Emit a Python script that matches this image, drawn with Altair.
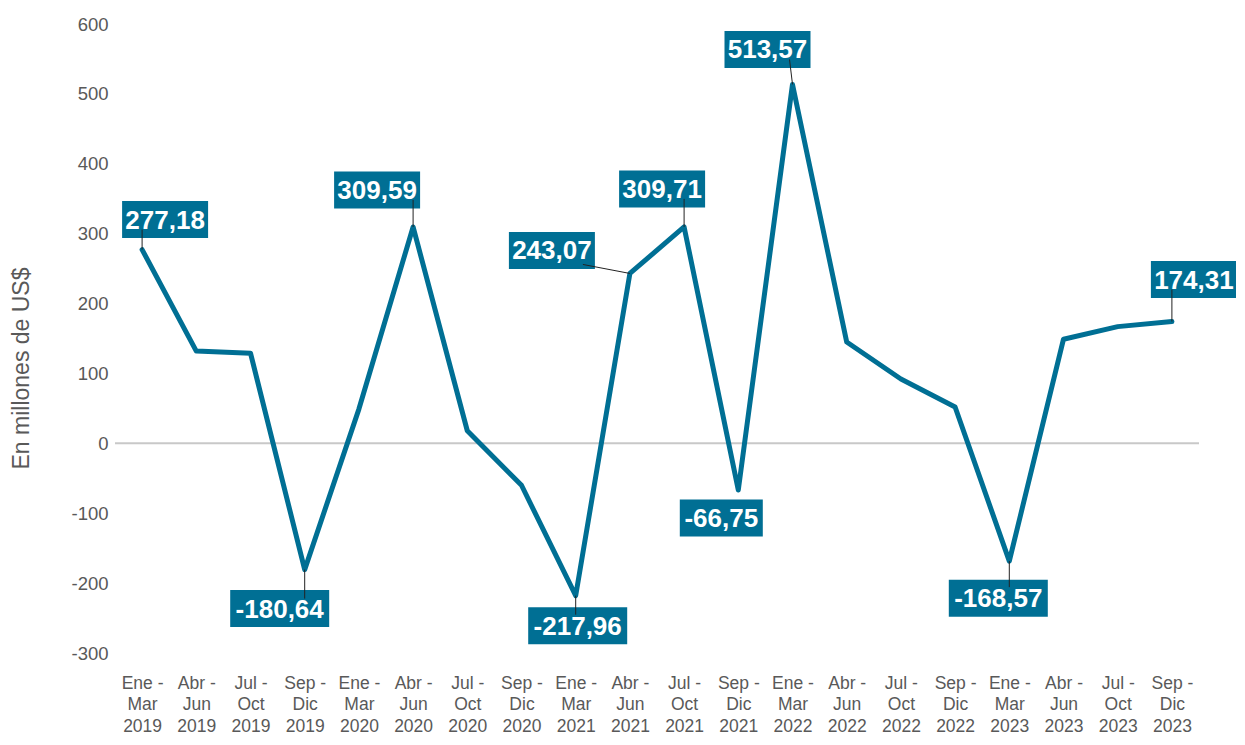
import altair as alt
import pandas as pd

periods = ["Ene -|Mar|2019", "Abr -|Jun|2019", "Jul -|Oct|2019", "Sep -|Dic|2019",
           "Ene -|Mar|2020", "Abr -|Jun|2020", "Jul -|Oct|2020", "Sep -|Dic|2020",
           "Ene -|Mar|2021", "Abr -|Jun|2021", "Jul -|Oct|2021", "Sep -|Dic|2021",
           "Ene -|Mar|2022", "Abr -|Jun|2022", "Jul -|Oct|2022", "Sep -|Dic|2022",
           "Ene -|Mar|2023", "Abr -|Jun|2023", "Jul -|Oct|2023", "Sep -|Dic|2023"]
values = [277.18, 132, 129, -180.64, 49, 309.59, 18, -60, -217.96, 243.07,
          309.71, -66.75, 513.57, 145, 92, 52, -168.57, 149, 167, 174.31]

# annotated points (index into the series) and their label text
label_idx = [0, 3, 5, 8, 9, 10, 11, 12, 16, 19]
label_txt = ["277,18", "-180,64", "309,59", "-217,96", "243,07", "309,71",
             "-66,75", "513,57", "-168,57", "174,31"]
# label box centre offsets from the point (pixels)
label_dx = [23, -25, -36, 2, -78, -22, -17, -25, -11, 22]
label_dy = [-30, 39, -37, 30, -23, -38, 28, -35, 37, -42]
# leader line end offsets from the point (pixels)
lead_dx = [0, 0, 0, 0, -47, 0, 0, -3, 0, 0]
lead_dy = [-20, 29, -27, 19, -9, -28, 0, -25, 26, -32]

W, H = 1084, 629
YMIN, YMAX = -300, 600
KX = W / 20.0
KY = H / float(YMAX - YMIN)

COLOR = "#006F94"
GREY = "#595959"
FONT = "Liberation Sans"

df = pd.DataFrame({"i": list(range(len(values))), "v": values})
ann = pd.DataFrame({
    "i": label_idx,
    "v": [values[k] for k in label_idx],
    "t": label_txt,
    "dx": label_dx, "dy": label_dy,
    "lx": lead_dx, "ly": lead_dy,
})

xscale = alt.Scale(domain=[-0.5, 19.5], nice=False, zero=False)
yscale = alt.Scale(domain=[YMIN, YMAX], nice=False, zero=False)

lbl_arr = "[" + ",".join("'" + p + "'" for p in periods) + "]"

xaxis = alt.Axis(values=list(range(20)), labelExpr="split(" + lbl_arr + "[datum.value], '|')",
                 ticks=False, domain=False, grid=False, title=None,
                 labelFont=FONT, labelFontSize=17.5, labelColor=GREY, labelPadding=21,
                 labelLineHeight=21.5, labelAngle=0)
yaxis = alt.Axis(values=list(range(-300, 601, 100)), labelExpr="datum.value + ''",
                 ticks=False, domain=False, grid=False,
                 title="En millones de US$", titleFont=FONT, titleFontSize=23,
                 titleFontWeight="normal", titleColor=GREY, titleAngle=270,
                 titleAlign="center", titleBaseline="middle", titleX=-94, titleY=344,
                 labelFont=FONT, labelFontSize=18.5, labelColor=GREY, labelPadding=7)

zero = alt.Chart(pd.DataFrame({"z": [0]})).mark_rule(color="#C8C8C8", strokeWidth=2).encode(
    y=alt.Y("z:Q", scale=yscale, axis=yaxis))

line = alt.Chart(df).mark_line(color=COLOR, strokeWidth=5, strokeJoin="round", strokeCap="round").encode(
    x=alt.X("i:Q", scale=xscale, axis=xaxis),
    y=alt.Y("v:Q", scale=yscale, axis=yaxis),
)

base_ann = alt.Chart(ann).transform_calculate(
    w="16*length(datum.t) - 10 - (datum.v < 0 ? 3 : 0)",
    cx="datum.i + datum.dx/" + str(KX),
    cy="datum.v - datum.dy/" + str(KY),
).transform_calculate(
    bx1="datum.cx - (datum.w/2)/" + str(KX),
    bx2="datum.cx + (datum.w/2)/" + str(KX),
    by1="datum.cy - 18.5/" + str(KY),
    by2="datum.cy + 18.5/" + str(KY),
    ex="datum.i + datum.lx/" + str(KX),
    ey="datum.v - datum.ly/" + str(KY),
)

boxes = base_ann.mark_rect(color=COLOR).encode(
    x=alt.X("bx1:Q", scale=xscale, axis=xaxis), x2="bx2:Q",
    y=alt.Y("by1:Q", scale=yscale, axis=yaxis), y2="by2:Q",
)

leaders = base_ann.mark_rule(color="#222222", strokeWidth=1).encode(
    x=alt.X("i:Q", scale=xscale, axis=xaxis), x2="ex:Q",
    y=alt.Y("v:Q", scale=yscale, axis=yaxis), y2="ey:Q",
)

texts = base_ann.mark_text(color="white", font=FONT, fontSize=26, fontWeight="bold",
                           baseline="middle", align="center", dy=1).encode(
    x=alt.X("cx:Q", scale=xscale, axis=xaxis),
    y=alt.Y("cy:Q", scale=yscale, axis=yaxis),
    text="t:N",
)

chart = alt.layer(zero, line, boxes, leaders, texts).properties(
    width=W, height=H,
    autosize=alt.AutoSizeParams(type="none"),
    padding={"left": 107, "top": 16, "right": 37, "bottom": 83},
).configure_view(stroke=None)

chart.save("out.html", embed_options={"renderer": "svg", "actions": False})
